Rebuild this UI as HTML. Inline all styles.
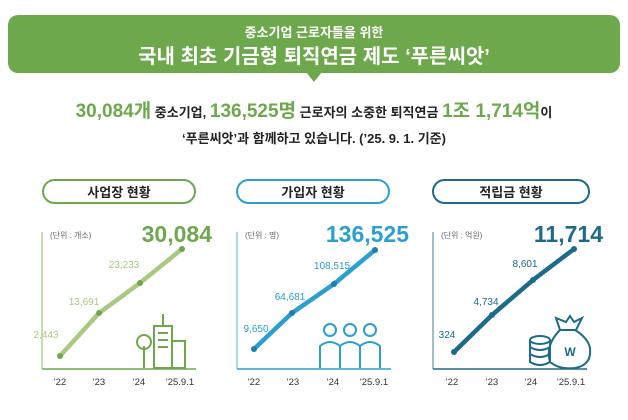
<!DOCTYPE html>
<html><head><meta charset="utf-8"><style>
body{margin:0;background:#fff;}
svg text{font-family:"Liberation Sans","Noto Sans CJK KR",sans-serif;}
</style></head><body>
<svg width="628" height="415" viewBox="0 0 628 415" xmlns="http://www.w3.org/2000/svg">
<rect x="8" y="15" width="612" height="58" rx="10" fill="#6ea84d"/>
<polygon points="306,72 322,72 314,82" fill="#6ea84d"/>
<text x="314" y="37" text-anchor="middle" font-size="13" fill="#fff" font-weight="bold">중소기업 근로자들을 위한</text>
<text x="314" y="63" text-anchor="middle" font-size="20" fill="#fff" font-weight="bold">국내 최초 기금형 퇴직연금 제도 ‘푸른씨앗’</text>
<text x="314" y="117" text-anchor="middle" font-size="13" font-weight="bold" fill="#222"><tspan fill="#6ea84d" font-size="19">30,084개</tspan> 중소기업, <tspan fill="#6ea84d" font-size="19">136,525명</tspan> 근로자의 소중한 퇴직연금 <tspan fill="#6ea84d" font-size="19">1조 1,714억</tspan>이</text>
<text x="314" y="143" text-anchor="middle" font-size="13" font-weight="bold" fill="#222">‘푸른씨앗’과 함께하고 있습니다. (’25. 9. 1. 기준)</text>

<!-- chart 1 -->
<g>
<rect x="43" y="180" width="152" height="23" rx="11.5" fill="#fff" stroke="#6ea84d" stroke-width="2"/>
<text x="119" y="197" text-anchor="middle" font-size="13" font-weight="bold" fill="#222">사업장 현황</text>
<line x1="42" y1="232" x2="42" y2="369" stroke="#b5d19a" stroke-width="1.5"/>
<line x1="42" y1="369" x2="196" y2="369" stroke="#6ea84d" stroke-width="1.5"/>
<text x="50" y="238" font-size="8" fill="#666">(단위 : 개소)</text>
<text x="212" y="242" text-anchor="end" font-size="23" font-weight="bold" fill="#6ea84d">30,084</text>
<polyline points="60,356 99,313 140,283 182,249" fill="none" stroke="#a9c981" stroke-width="4.5"/>
<g fill="#6ea84d"><circle cx="60" cy="356" r="3"/><circle cx="99" cy="313" r="3"/><circle cx="140" cy="283" r="3"/><circle cx="182" cy="249" r="3"/></g>
<g font-size="10" fill="#a9c981" text-anchor="middle"><text x="46" y="338">2,443</text><text x="84" y="305">13,691</text><text x="124" y="268">23,233</text></g>
<g fill="none" stroke="#6ea84d" stroke-width="2">
<rect x="154" y="326" width="18" height="42"/><line x1="163" y1="314" x2="163" y2="326"/>
<rect x="172" y="341" width="13" height="27"/>
<circle cx="144" cy="342" r="7"/><line x1="144" y1="346" x2="144" y2="368"/>
<line x1="158" y1="333" x2="168" y2="333"/><line x1="158" y1="340" x2="168" y2="340"/><line x1="158" y1="347" x2="168" y2="347"/>
</g>
<g font-size="9.5" fill="#333" text-anchor="middle"><text x="60" y="385">'22</text><text x="99" y="385">'23</text><text x="139" y="385">'24</text><text x="180" y="385">'25.9.1</text></g>
</g>

<!-- chart 2 -->
<g>
<rect x="237" y="180" width="152" height="23" rx="11.5" fill="#fff" stroke="#2b9fce" stroke-width="2"/>
<text x="313" y="197" text-anchor="middle" font-size="13" font-weight="bold" fill="#222">가입자 현황</text>
<line x1="237" y1="232" x2="237" y2="369" stroke="#8ccbe6" stroke-width="1.5"/>
<line x1="237" y1="369" x2="391" y2="369" stroke="#2b9fce" stroke-width="1.5"/>
<text x="245" y="238" font-size="8" fill="#666">(단위 : 명)</text>
<text x="409" y="242" text-anchor="end" font-size="23" font-weight="bold" fill="#2b9fce">136,525</text>
<polyline points="254,349 292,313 334,284 375,250" fill="none" stroke="#2b9fce" stroke-width="4.5"/>
<g fill="#1c7fb0"><circle cx="254" cy="349" r="3"/><circle cx="292" cy="313" r="3"/><circle cx="334" cy="284" r="3"/><circle cx="375" cy="250" r="3"/></g>
<g font-size="10" fill="#2b9fce" text-anchor="middle"><text x="256" y="332">9,650</text><text x="290" y="300">64,681</text><text x="332" y="269">108,515</text></g>
<g fill="none" stroke="#2b9fce" stroke-width="2">
<circle cx="330" cy="330" r="6"/><circle cx="350" cy="330" r="6"/><circle cx="370" cy="330" r="6"/>
<path d="M320 368 V346 Q330 338 340 346 V368 M340 368 V346 Q350 338 360 346 V368 M360 368 V346 Q370 338 380 346 V368"/>
</g>
<g font-size="9.5" fill="#333" text-anchor="middle"><text x="254" y="385">'22</text><text x="293" y="385">'23</text><text x="333" y="385">'24</text><text x="374" y="385">'25.9.1</text></g>
</g>

<!-- chart 3 -->
<g>
<rect x="433" y="180" width="156" height="23" rx="11.5" fill="#fff" stroke="#1d6b8a" stroke-width="2"/>
<text x="511" y="197" text-anchor="middle" font-size="13" font-weight="bold" fill="#222">적립금 현황</text>
<line x1="433" y1="232" x2="433" y2="369" stroke="#7fa9bd" stroke-width="1.5"/>
<line x1="433" y1="369" x2="587" y2="369" stroke="#1d6b8a" stroke-width="1.5"/>
<text x="441" y="238" font-size="8" fill="#666">(단위 : 억원)</text>
<text x="603" y="242" text-anchor="end" font-size="23" font-weight="bold" fill="#1d6b8a">11,714</text>
<polyline points="454,352 492,315 533,280 574,249" fill="none" stroke="#1d6b8a" stroke-width="4.5"/>
<g fill="#1d6b8a"><circle cx="454" cy="352" r="3"/><circle cx="492" cy="315" r="3"/><circle cx="533" cy="280" r="3"/><circle cx="574" cy="249" r="3"/></g>
<g font-size="10" fill="#1d6b8a" text-anchor="middle"><text x="447" y="338">324</text><text x="486" y="305">4,734</text><text x="525" y="267">8,601</text></g>
<g fill="none" stroke="#1d6b8a" stroke-width="2">
<ellipse cx="540" cy="340" rx="10" ry="4"/><path d="M530 340 V362 Q540 368 550 362 V340 M530 347 Q540 353 550 347 M530 354 Q540 360 550 354"/>
<path d="M560 330 Q545 345 550 362 Q560 370 575 368 Q592 365 590 348 Q588 338 575 330 Z"/>
<path d="M560 330 L556 318 L566 322 L570 316 L574 322 L582 318 L576 330"/>
</g>
<text x="570" y="356" text-anchor="middle" font-size="12" font-weight="bold" fill="#1d6b8a" font-family="Liberation Serif,serif">W</text>
<g font-size="9.5" fill="#333" text-anchor="middle"><text x="452" y="385">'22</text><text x="492" y="385">'23</text><text x="531" y="385">'24</text><text x="571" y="385">'25.9.1</text></g>
</g>
</svg>
</body></html>
